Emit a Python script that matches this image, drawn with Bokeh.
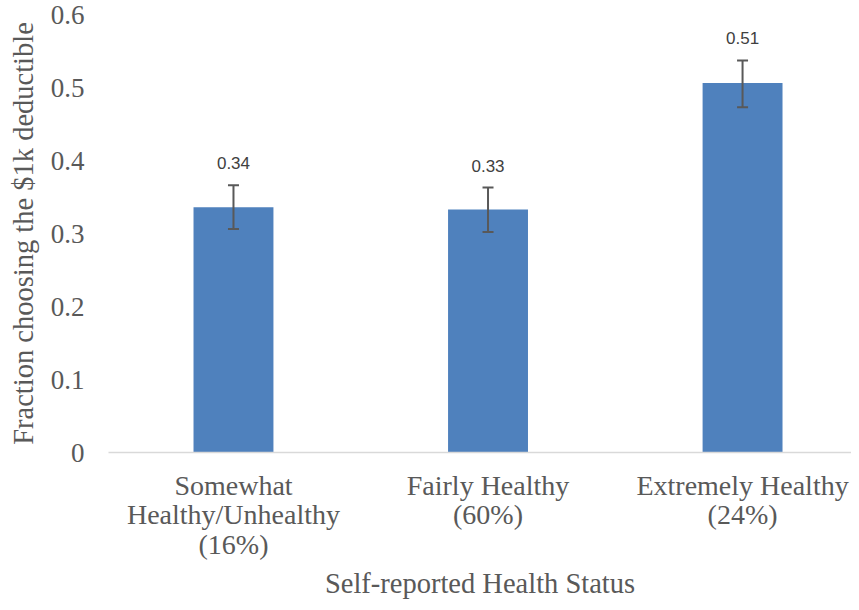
from bokeh.plotting import figure
from bokeh.models import ColumnDataSource, Range1d, FixedTicker, Whisker, TeeHead
from bokeh.core.properties import value
from bokeh.embed import file_html
from bokeh.resources import INLINE

categories = ["Somewhat\nHealthy/Unhealthy\n(16%)", "Fairly Healthy\n(60%)", "Extremely Healthy\n(24%)"]
positions = [0.5, 1.5, 2.5]
fractions = [0.336, 0.333, 0.506]
err_lower = [0.306, 0.302, 0.473]
err_upper = [0.366, 0.363, 0.537]
y_ticks = [0, 0.1, 0.2, 0.3, 0.4, 0.5, 0.6]

src = ColumnDataSource(dict(
    x=positions, top=fractions, lower=err_lower, upper=err_upper,
    label=[f"{v:.2f}" for v in fractions],
))

p = figure(width=851, height=602, output_backend="svg", toolbar_location=None,
           x_range=Range1d(0.009, 2.928), y_range=Range1d(0, 0.6))
p.min_border_left = 108
p.min_border_right = 0
p.min_border_top = 14
p.min_border_bottom = 0
p.outline_line_color = None
p.xgrid.grid_line_color = None
p.ygrid.grid_line_color = None
p.background_fill_color = "white"
p.border_fill_color = "white"

p.vbar(x="x", top="top", bottom=0, width=0.314, source=src,
       fill_color="#4f81bd", line_color=None)

p.add_layout(Whisker(source=src, base="x", lower="lower", upper="upper",
                     level="overlay",
                     line_color="#595959", line_width=2,
                     lower_head=TeeHead(size=11, line_color="#595959", line_width=2),
                     upper_head=TeeHead(size=11, line_color="#595959", line_width=2)))

p.text(x="x", y="upper", text="label", source=src, text_align="center",
       text_baseline="bottom", y_offset=-16, text_font=value("Liberation Sans"),
       text_font_size="17px", text_color="#404040")

serif = "Liberation Serif"
tick_color = "#595959"

xa = p.xaxis[0]
xa.ticker = FixedTicker(ticks=positions)
xa.major_label_overrides = {pos: lab for pos, lab in zip(positions, categories)}
xa.axis_line_color = "#d9d9d9"
xa.axis_line_width = 1.5
xa.major_tick_line_color = None
xa.minor_tick_line_color = None
xa.major_label_text_font = serif
xa.major_label_text_font_size = "28px"
xa.major_label_text_color = tick_color
xa.major_label_text_line_height = 0.96
xa.major_label_standoff = 11
xa.axis_label = "Self-reported Health Status"
xa.axis_label_text_font = serif
xa.axis_label_text_font_size = "28.5px"
xa.axis_label_text_font_style = "normal"
xa.axis_label_text_color = tick_color
xa.axis_label_standoff = 5

ya = p.yaxis[0]
ya.ticker = FixedTicker(ticks=y_ticks)
ya.major_label_overrides = {0: "0"}
ya.axis_line_color = None
ya.major_tick_line_color = None
ya.minor_tick_line_color = None
ya.major_label_text_font = serif
ya.major_label_text_font_size = "27px"
ya.major_label_text_color = tick_color
ya.major_label_standoff = 18
ya.axis_label = "Fraction choosing the $1k deductible"
ya.axis_label_text_font = serif
ya.axis_label_text_font_size = "28.5px"
ya.axis_label_text_font_style = "normal"
ya.axis_label_text_color = tick_color
ya.axis_label_standoff = 9

open("out.html", "w").write(file_html(p, INLINE))
